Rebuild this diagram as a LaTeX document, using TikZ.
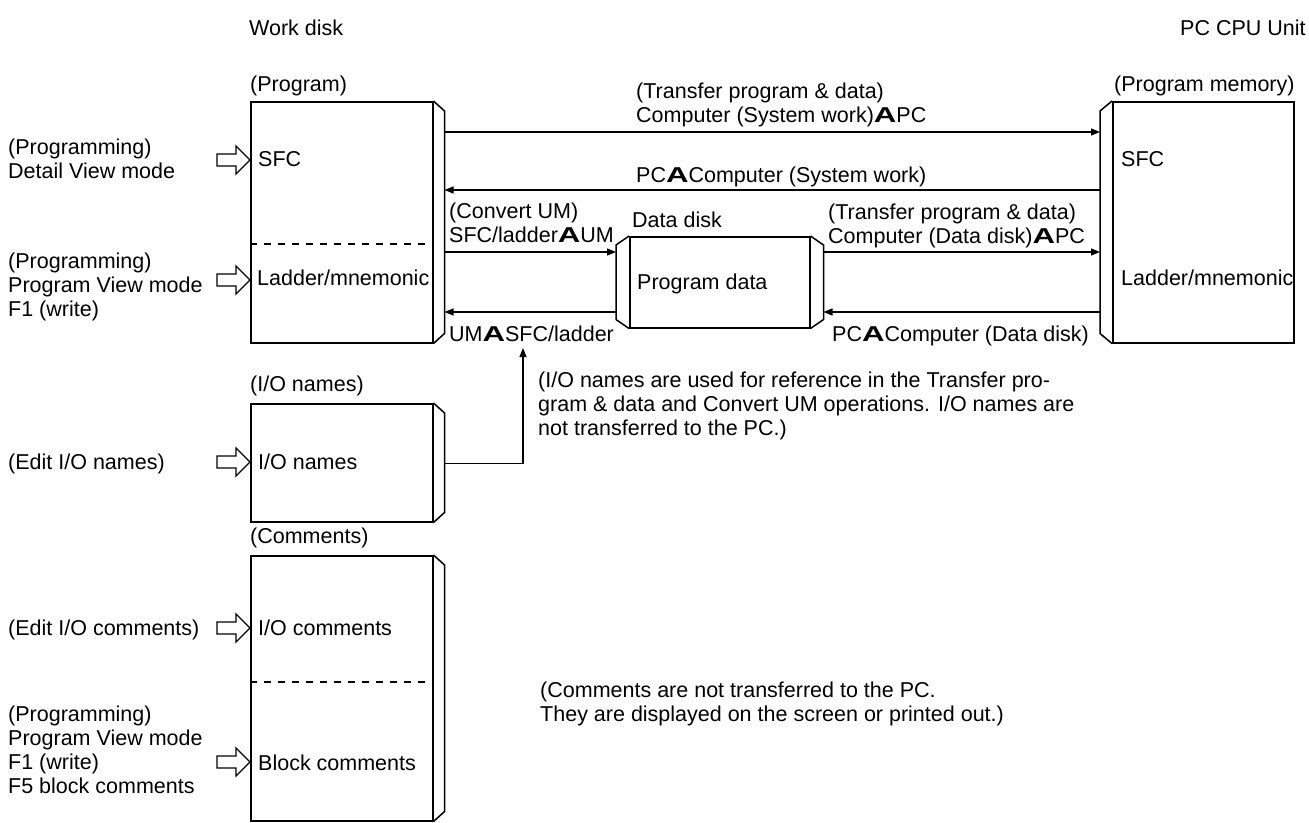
\documentclass[tikz,border=0pt]{standalone}
\usepackage{fontspec}
\setmainfont{Liberation Sans}
\usetikzlibrary{arrows.meta,calc}
\newcommand{\Ag}{\scalebox{1.45}[1]{\textbf{A}}}
\begin{document}
\begin{tikzpicture}[x=1pt,y=-1pt,
  every node/.style={font=\fontsize{21.5}{24}\selectfont, inner sep=0pt},
  lbl/.style={anchor=base west, align=left},
  box/.style={draw, line width=1.5pt, anchor=north west, minimum width=182pt},
  bw/.style={line width=1.5pt, line join=miter},
  conn/.style={line width=1.2pt, -{Triangle[length=9pt,width=7pt]}},
  dsh/.style={line width=1.2pt, dash pattern=on 7pt off 7pt},
  inarrow/.pic={\draw[line width=1.3pt, line join=miter] (-33,-6) -- (-14,-6) -- (-14,-14) -- (0,0) -- (-14,14) -- (-14,6) -- (-33,6) -- cycle;}
]
\useasboundingbox (0,0) rectangle (1309,822);

% boxes
\node[box, minimum height=241pt] (prog) at (250,101) {};
\node[box, minimum height=118pt] (io) at (250,403) {};
\node[box, minimum height=265pt] (com) at (250,555) {};
\node[box, minimum width=181pt, minimum height=241pt] (pc) at (1112,101) {};
\node[box, minimum width=180pt, minimum height=91pt] (disk) at (629,236) {};

% bevels
\foreach \b in {prog,io,com}{
  \draw[bw] (\b.north east) -- ++(11,10) -- ($(\b.south east)+(11,-10)$) -- (\b.south east);
}
\draw[bw] (pc.north west) -- ++(-12,10) -- ($(pc.south west)+(-12,-10)$) -- (pc.south west);
\draw[bw] (disk.north west) -- ++(-13,9) -- ($(disk.south west)+(-13,-9)$) -- (disk.south west);
\draw[bw] (disk.north east) -- ++(13,9) -- ($(disk.south east)+(13,-9)$) -- (disk.south east);

% dashed separators
\draw[dsh] (prog.west |- 0,244) -- (prog.east |- 0,244);
\draw[dsh] (com.west |- 0,682) -- (com.east |- 0,682);

% connectors
\draw[conn] ($(prog.north east)+(11,31)$) -- ($(pc.north west)+(-12,31)$);
\draw[conn] ($(pc.north west)+(-12,89)$) -- ($(prog.north east)+(11,89)$);
\draw[conn] ($(prog.north east)+(11,151)$) -- ($(disk.north west)+(-13,16)$);
\draw[conn] ($(disk.north west)+(-13,76)$) -- ($(prog.north east)+(11,211)$);
\draw[conn] ($(disk.north east)+(13,16)$) -- ($(pc.north west)+(-12,151)$);
\draw[conn] ($(pc.north west)+(-12,211)$) -- ($(disk.north east)+(13,76)$);
\coordinate (ioref) at (523,348);
\draw[conn] ($(io.east)+(11,1)$) -| (ioref);

% open input arrows
\pic at (250,160) {inarrow};
\pic at (250,280) {inarrow};
\pic at (250,462) {inarrow};
\pic at (250,628) {inarrow};
\pic at (250,762) {inarrow};

% texts (base = last line)
\node[lbl] (t1) at (249,35) {Work disk};
\node[lbl] (t2) at (1180,35) {PC CPU Unit};
\node[lbl] (t3) at (250,91) {(Program)};
\node[lbl] (t4) at (1114,91) {(Program memory)};
\node[lbl] (t5) at (636,122) {(Transfer program \& data)\\Computer (System work)\Ag PC};
\node[lbl] (t6) at (636,182) {PC\Ag Computer (System work)};
\node[lbl] (t7) at (449,242) {(Convert UM)\\SFC/ladder\Ag UM};
\node[lbl] (t8) at (632,227) {Data disk};
\node[lbl] (t9) at (828,243) {(Transfer program \& data)\\Computer (Data disk)\Ag PC};
\node[lbl] (t10) at (449,341) {UM\Ag SFC/ladder};
\node[lbl] (t11) at (832,341) {PC\Ag Computer (Data disk)};
\node[lbl] (t12) at (538,435) {(I/O names are used for reference in the Transfer pro-\\gram \& data and Convert UM operations. I/O names are\\not transferred to the PC.)};
\node[lbl] (s1) at (258,166) {SFC};
\node[lbl] (s2) at (257,285) {Ladder/mnemonic};
\node[lbl] (s3) at (1121,166) {SFC};
\node[lbl] (s4) at (1121,285) {Ladder/mnemonic};
\node[lbl] (s5) at (637,289) {Program data};
\node[lbl] (t13) at (250,391) {(I/O names)};
\node[lbl] (s6) at (258,469) {I/O names};
\node[lbl] (t14) at (250,543) {(Comments)};
\node[lbl] (s7) at (258,635) {I/O comments};
\node[lbl] (s8) at (258,770) {Block comments};
\node[lbl] (t15) at (540,721) {(Comments are not transferred to the PC.\\They are displayed on the screen or printed out.)};
\node[lbl] (l1) at (8,178) {(Programming)\\Detail View mode};
\node[lbl] (l2) at (8,316) {(Programming)\\Program View mode\\F1 (write)};
\node[lbl] (l3) at (8,469) {(Edit I/O names)};
\node[lbl] (l4) at (8,635) {(Edit I/O comments)};
\node[lbl] (l5) at (8,793) {(Programming)\\Program View mode\\F1 (write)\\F5 block comments};
\end{tikzpicture}
\end{document}
